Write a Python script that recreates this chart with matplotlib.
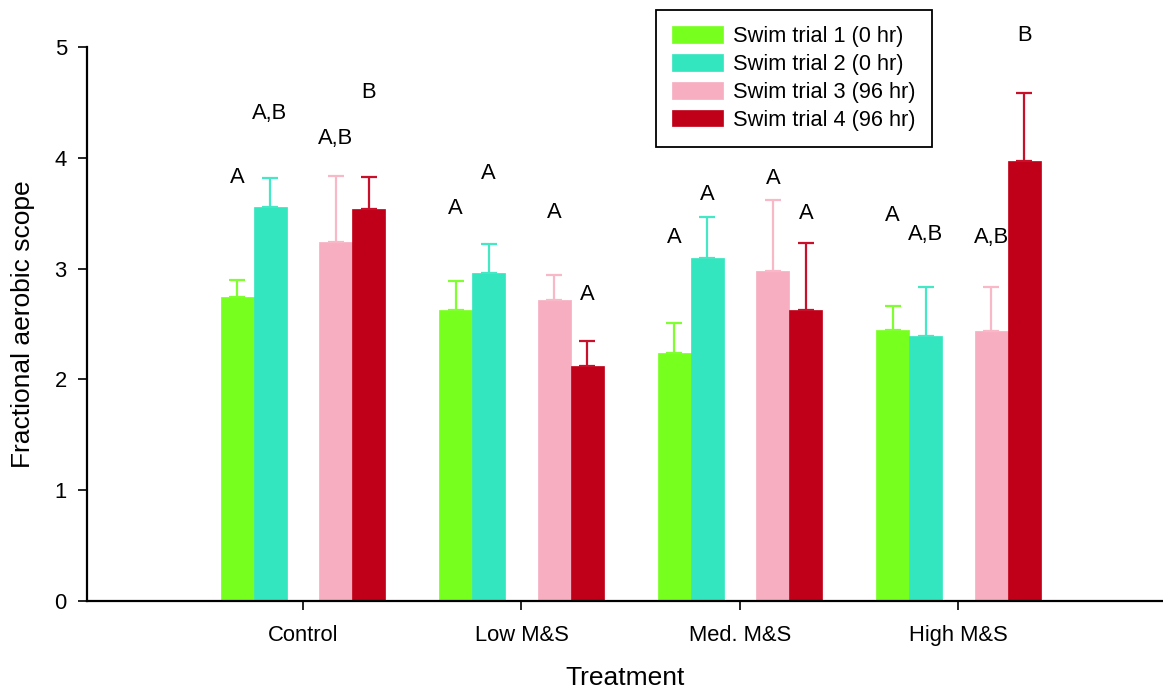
import matplotlib
matplotlib.use("Agg")
import matplotlib.pyplot as plt
import numpy as np

plt.rcParams['font.family'] = ['Liberation Sans', 'DejaVu Sans']

treatments = ["Control", "Low M&S", "Med. M&S", "High M&S"]
series = ["Swim trial 1 (0 hr)", "Swim trial 2 (0 hr)", "Swim trial 3 (96 hr)", "Swim trial 4 (96 hr)"]
colors = ["#77FF1E", "#33E6BF", "#F7AEC1", "#C00018"]
err_colors = ["#80FF30", "#45E8C5", "#F9B8C8", "#C8102A"]

trial1 = [2.74, 2.63, 2.24, 2.45]
trial2 = [3.56, 2.96, 3.10, 2.39]
trial3 = [3.24, 2.72, 2.98, 2.44]
trial4 = [3.54, 2.12, 2.63, 3.97]

err_top1 = [2.90, 2.886, 2.51, 2.66]
err_top2 = [3.82, 3.22, 3.47, 2.83]
err_top3 = [3.84, 2.94, 3.62, 2.835]
err_top4 = [3.83, 2.345, 3.23, 4.585]

letters1 = ["A", "A", "A", "A"]
letters2 = ["A,B", "A", "A", "A,B"]
letters3 = ["A,B", "A", "A", "A,B"]
letters4 = ["B", "A", "A", "B"]

letter_y1 = [3.82, 3.54, 3.28, 3.48]
letter_y2 = [4.40, 3.86, 3.67, 3.31]
letter_y3 = [4.17, 3.51, 3.81, 3.28]
letter_y4 = [4.59, 2.77, 3.50, 5.10]

values = [trial1, trial2, trial3, trial4]
err_tops = [err_top1, err_top2, err_top3, err_top4]
letters = [letters1, letters2, letters3, letters4]
letter_ys = [letter_y1, letter_y2, letter_y3, letter_y4]

fig = plt.figure(figsize=(11.63, 6.92), dpi=100)
ax = fig.add_axes([87/1163, 91/692, 1 - 87/1163, (601-47)/692])

x = np.arange(1, len(treatments) + 1)
w = 0.151
offsets = [-2*w, -w, w, 2*w]

for i in range(4):
    pos = x + offsets[i]
    vals = np.array(values[i])
    tops = np.array(err_tops[i])
    ax.bar(pos, vals, width=w, color=colors[i], label=series[i], zorder=2,
           edgecolor=colors[i], linewidth=0.5)
    ax.errorbar(pos, vals, yerr=[np.zeros_like(vals), tops - vals], fmt='none',
                ecolor=err_colors[i], elinewidth=1.6, capsize=5.8, capthick=1.6, zorder=3)
    for j in range(len(treatments)):
        ax.text(pos[j], letter_ys[i][j], letters[i][j], ha='center', va='center',
                fontsize=15.8, color='black', clip_on=False)

ax.set_xlim(1 - 216/218.5, 1 + (1163 - 303)/218.5)
ax.set_ylim(0, 5)
ax.set_xticks(x)
ax.set_xticklabels(treatments)
ax.set_yticks(range(6))
ax.tick_params(axis='both', direction='out', length=6.5, width=1.2, labelsize=15.8, colors='black')
ax.tick_params(axis='x', pad=11)
ax.tick_params(axis='y', pad=8)
for s in ['top', 'right']:
    ax.spines[s].set_visible(False)
for s in ['left', 'bottom']:
    ax.spines[s].set_linewidth(1.6)

ax.set_xlabel("Treatment", fontsize=19, labelpad=14)
ax.set_ylabel("Fractional aerobic scope", fontsize=19, labelpad=14)

leg = ax.legend(loc='upper left', bbox_to_anchor=(656/1163, 1 - 10/692),
                bbox_transform=fig.transFigure, fontsize=15.7, frameon=True,
                fancybox=False, edgecolor='black', framealpha=1,
                handlelength=2.3, handleheight=0.8, handletextpad=0.5,
                labelspacing=0.31, borderpad=0.75, borderaxespad=0)
leg.get_frame().set_linewidth(1.3)

fig.savefig("out.png", dpi=100)
